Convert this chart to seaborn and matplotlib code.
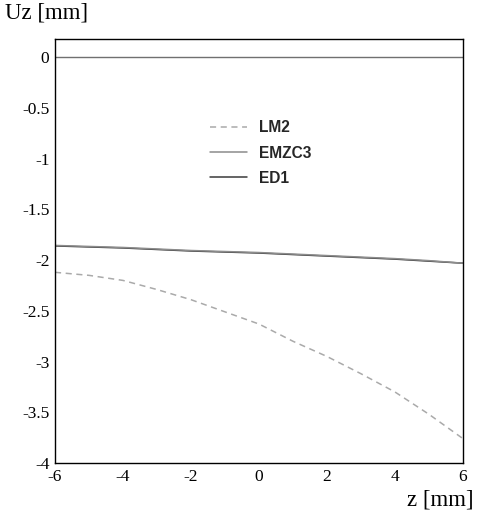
import numpy as np
import pandas as pd
import matplotlib
matplotlib.use("Agg")
import matplotlib.pyplot as plt
import seaborn as sns

# data
z_vals = [-6, -5, -4, -3, -2, -1, 0, 1, 2, 3, 4, 5, 6]
lm2 = [-2.12, -2.15, -2.20, -2.29, -2.39, -2.51, -2.63, -2.80, -2.95, -3.12, -3.30, -3.52, -3.76]
emzc3 = [-1.855, -1.865, -1.875, -1.89, -1.905, -1.915, -1.925, -1.94, -1.955, -1.97, -1.985, -2.005, -2.03]
ed1 = [-1.86, -1.87, -1.88, -1.895, -1.91, -1.92, -1.93, -1.945, -1.96, -1.975, -1.99, -2.01, -2.03]
series_names = ["LM2", "ED1", "EMZC3"]
legend_order = ["LM2", "EMZC3", "ED1"]
x_ticks = [-6, -4, -2, 0, 2, 4, 6]
y_ticks = [0, -0.5, -1, -1.5, -2, -2.5, -3, -3.5, -4]

df = pd.DataFrame({
    "z": z_vals * 3,
    "U": lm2 + ed1 + emzc3,
    "series": [n for n in series_names for _ in z_vals],
})

sns.set_theme(style="white")
plt.rcParams["font.family"] = ["Liberation Serif", "DejaVu Serif"]

fig = plt.figure(figsize=(4.78, 5.12), dpi=100)
ax = fig.add_axes([0.1151, 0.0957, 0.8535, 0.8281])

palette = {"LM2": "#aaaaaa", "EMZC3": "#8c8c8c", "ED1": "#3a3a3a"}
dashes = {"LM2": (4, 3), "EMZC3": "", "ED1": ""}
sns.lineplot(data=df, x="z", y="U", hue="series", style="series",
             palette=palette, dashes=dashes, linewidth=1.1, ax=ax)

# zero reference line
ax.axhline(0, color="#707070", linewidth=1)

ax.set_xlim(-6, 6)
ax.set_ylim(-4, 0.18)
ax.set_xticks(x_ticks)
ax.set_xticklabels([str(v) for v in x_ticks])
ax.set_yticks(y_ticks)
ax.set_yticklabels([f"{v:g}" for v in y_ticks])
ax.tick_params(length=0, labelsize=12.5, colors="black", pad=4)
ax.set_xlabel("")
ax.set_ylabel("")
for s in ax.spines.values():
    s.set_color("black")
    s.set_linewidth(1)

handles, labels = ax.get_legend_handles_labels()
hmap = dict(zip(labels, handles))
leg = ax.legend([hmap[n] for n in legend_order], legend_order,
                loc="upper left", bbox_to_anchor=(0.41, 0.792), bbox_transform=fig.transFigure,
                frameon=False, handlelength=2.4, labelspacing=0.65, handletextpad=0.75,
                prop={"family": "Liberation Sans", "weight": "bold", "size": 11.2})

fig.text(0.01, 0.995, "Uz [mm]", ha="left", va="top", fontsize=16.5, color="black")
fig.text(0.99, 0.003, "z [mm]", ha="right", va="bottom", fontsize=16.5, color="black")

fig.savefig("out.png", dpi=100)
